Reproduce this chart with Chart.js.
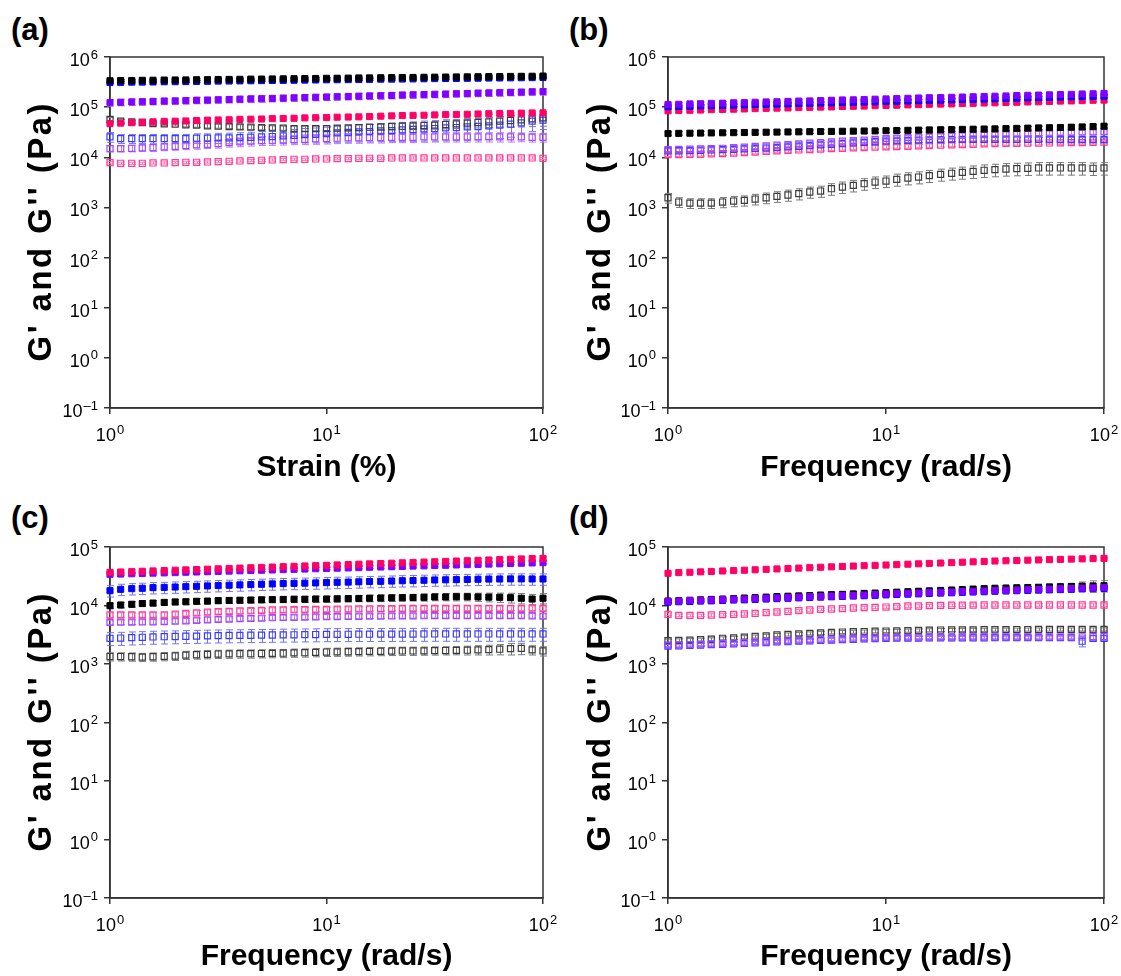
<!DOCTYPE html>
<html>
<head>
<meta charset="utf-8">
<script src="https://cdn.jsdelivr.net/npm/chart.js@4/dist/chart.umd.min.js"></script>
<style>
  html, body { margin: 0; padding: 0; background: #fff; }
  body { position: relative; width: 1121px; height: 976px; overflow: hidden; }
  canvas { position: absolute; }
  .tag { position: absolute; font: bold 31px "Liberation Sans", Arial, sans-serif; line-height: 1; color: #000; }
</style>
</head>
<body>
<div class="tag" style="left:11px;top:14px">(a)</div>
<div class="tag" style="left:569px;top:14px">(b)</div>
<div class="tag" style="left:11px;top:502px">(c)</div>
<div class="tag" style="left:569px;top:502px">(d)</div>
<canvas id="pa" width="560" height="488" style="left:0;top:0"></canvas>
<canvas id="pb" width="563" height="488" style="left:558px;top:0"></canvas>
<canvas id="pc" width="560" height="488" style="left:0;top:488px"></canvas>
<canvas id="pd" width="563" height="488" style="left:558px;top:488px"></canvas>
<script>
// ---- sweep points (20 per decade) ----
const strainPct = [1.00,1.12,1.26,1.41,1.58,1.78,2.00,2.24,2.51,2.82,3.16,3.55,3.98,4.47,5.01,5.62,6.31,7.08,7.94,8.91,10.0,11.2,12.6,14.1,15.8,17.8,20.0,22.4,25.1,28.2,31.6,35.5,39.8,44.7,50.1,56.2,63.1,70.8,79.4,89.1,100];
const angFreq   = [1.00,1.12,1.26,1.41,1.58,1.78,2.00,2.24,2.51,2.82,3.16,3.55,3.98,4.47,5.01,5.62,6.31,7.08,7.94,8.91,10.0,11.2,12.6,14.1,15.8,17.8,20.0,22.4,25.1,28.2,31.6,35.5,39.8,44.7,50.1,56.2,63.1,70.8,79.4,89.1,100];

// ---- axis ticks ----
const xDecades = [1, 10, 100];
const yDecadesTop = [0.1, 1, 10, 100, 1e3, 1e4, 1e5, 1e6];
const yDecadesBottom = [0.1, 1, 10, 100, 1e3, 1e4, 1e5];
const yTitleText = "G' and G'' (Pa)";

// ---- (a) strain sweep, moduli in kPa ----
const aG1 = [336,339,340,343,344,347,348,349,352,353,356,357,359,362,363,365,367,369,372,373,376,377,379,382,383,386,388,390,391,394,396,398,400,402,404,406,407,410,412,413,417];
const aG2 = [310,312,315,316,318,321,322,324,326,328,331,332,334,336,338,341,342,344,346,348,351,352,354,356,358,361,362,364,366,368,371,372,374,376,378,381,382,384,386,388,390];
const aG3 = [123,125,127,128,130,132,133,135,137,138,140,142,144,146,147,149,151,153,155,157,159,161,163,165,167,169,171,174,176,178,180,182,185,187,190,192,194,197,199,202,204];
const aG4 = [47,48,49,50,51,52,52.5,53,54,55,55.5,56,57,57.5,58,59,59.5,60,61,61.5,62,63,63.5,64,65,66,67,68,68.5,69,70,71,71.5,72,73,74,74.5,75,76,76.5,77];
const aL1 = [56.7,52.5,50.9,49.4,47.1,46.4,45.7,44.3,43.7,42.3,41.7,41.1,40.4,39.8,39.2,38.6,38.0,37.4,37.4,37.4,37.4,38.0,38.6,39.2,39.8,40.4,41.1,41.7,42.3,43.0,43.7,45.0,46.4,47.9,49.4,50.9,52.5,54.1,55.8,58.4,61.2];
const aL2 = [25.5,23.6,23.6,23.6,23.6,23.6,23.6,23.6,24.0,24.0,24.4,24.4,24.7,25.1,25.5,25.9,26.7,27.5,28.4,28.8,29.7,30.7,31.2,32.1,32.6,33.6,34.1,35.2,35.8,36.9,37.4,38.6,39.2,40.4,41.1,42.3,43.7,45.7,48.6,52.5,55.0];
const aL3 = [14.9,14.9,15.1,15.4,15.6,16.1,16.6,17.1,17.7,18.2,18.8,19.7,20.3,20.9,21.5,21.9,22.2,22.6,22.9,23.3,23.6,24.0,24.4,24.4,24.7,24.7,25.1,25.1,25.1,25.5,25.5,25.5,25.5,25.5,25.5,25.5,25.5,25.5,25.5,25.1,25.1];
const aL4 = [7.82,7.59,7.59,7.59,7.70,7.70,7.82,7.94,7.94,8.07,8.20,8.32,8.45,8.59,8.71,8.85,8.99,9.12,9.12,9.26,9.26,9.40,9.40,9.55,9.55,9.55,9.70,9.70,9.70,9.70,9.70,9.70,9.70,9.70,9.70,9.70,9.70,9.70,9.70,9.70,9.55];

// ---- (b) frequency sweep ----
const bG1 = [29.7,30.0,30.2,30.4,30.6,30.8,31.0,31.2,31.4,31.6,31.8,32.0,32.2,32.4,32.6,32.8,33.0,33.2,33.4,33.6,33.9,34.2,34.5,34.8,35.1,35.4,35.7,36.0,36.3,36.6,36.9,37.3,37.7,38.1,38.5,38.9,39.3,39.8,40.3,41.0,41.7];
const bG2 = [102,103,104,106,107,108,110,111,113,114,115,116,118,119,121,122,124,125,127,128,130,131,133,135,136,138,140,142,143,145,147,149,151,153,155,157,159,161,163,164,166];
const bG3 = [113,114,116,117,119,120,122,123,125,127,128,130,132,133,135,137,139,140,142,144,146,148,150,152,154,155,157,159,161,163,165,167,170,172,174,176,178,180,183,185,188];
const bG4 = [84.5,85.5,86.5,87.5,89,90,91,92,93.5,94.5,95.5,96.5,98,99,100,101,103,104,105,107,108,109,111,112,114,115,116,118,119,121,122,124,125,127,128,130,132,133,135,137,138];
const bL1 = [1.56,1.28,1.22,1.22,1.22,1.28,1.34,1.38,1.47,1.56,1.66,1.77,1.88,2.03,2.12,2.36,2.55,2.75,2.97,3.21,3.36,3.63,3.86,4.04,4.30,4.57,4.79,5.01,5.25,5.50,5.67,5.84,5.93,6.03,6.12,6.12,6.12,6.12,6.12,6.03,6.12];
const bL2 = [13.4,13.5,13.6,13.8,14.0,14.2,14.4,14.7,15.0,15.3,15.6,16.1,16.6,17.1,17.7,18.2,18.8,19.3,19.8,20.4,20.9,21.3,21.7,22.0,22.3,22.6,22.7,22.8,22.9,22.9,22.9,22.9,22.8,22.8,22.7,22.6,22.6,22.6,22.6,22.6,22.6];
const bL3 = [14.2,14.3,14.5,14.7,14.9,15.1,15.5,15.9,16.4,16.9,17.4,17.9,18.5,19.1,19.7,20.3,20.9,21.5,22.1,22.8,23.6,24.1,24.6,25.2,25.8,26.3,26.8,27.3,27.8,28.3,28.8,29.2,29.6,30.0,30.3,30.7,31.0,31.3,31.6,31.9,32.1];
const bL4 = [11.3,11.3,11.4,11.5,11.7,11.8,12.1,12.4,12.7,13.1,13.4,13.7,14.0,14.3,14.6,14.9,15.1,15.4,15.6,15.9,16.1,16.4,16.6,16.9,17.1,17.4,17.7,18.0,18.2,18.5,18.8,18.9,19.0,19.1,19.2,19.3,19.4,19.6,19.7,19.9,20.0];

// ---- (c) frequency sweep ----
const cG1 = [9.93,10.2,10.5,10.8,11.0,11.3,11.5,11.6,11.8,11.9,12.1,12.2,12.3,12.4,12.5,12.6,12.7,12.8,12.8,12.9,12.9,13.0,13.1,13.2,13.3,13.4,13.5,13.6,13.7,13.8,14.0,14.0,14.1,14.1,14.0,13.9,13.8,13.6,13.3,12.9,13.3];
const cG2 = [17.9,18.9,19.4,19.7,20.2,20.4,20.7,21.0,21.3,21.6,21.9,22.2,22.5,22.8,23.1,23.4,23.7,23.9,24.1,24.3,24.6,24.9,25.1,25.4,25.7,25.9,26.2,26.5,26.7,27.0,27.3,27.5,27.7,27.9,28.1,28.3,28.4,28.5,28.5,28.4,28.4];
const cG3 = [34.1,34.5,34.9,35.3,35.7,36.1,36.5,37.0,37.4,37.8,38.3,38.7,39.2,39.6,40.1,40.5,41.0,41.5,42.0,42.5,43.0,43.4,43.9,44.4,45.0,45.5,46.0,46.5,47.1,47.6,48.2,48.7,49.3,49.9,50.4,51.0,51.6,52.2,52.8,53.4,54.0];
const cG4 = [36.9,37.4,37.9,38.5,39.0,39.5,40.1,40.7,41.2,41.8,42.4,43.0,43.6,44.2,44.8,45.4,46.1,46.7,47.4,48.0,48.7,49.4,50.1,50.8,51.5,52.2,52.9,53.7,54.4,55.2,56.0,56.7,57.5,58.3,59.2,60.0,60.8,61.7,62.5,63.4,64.0];
const cL1 = [1.34,1.34,1.33,1.31,1.33,1.35,1.37,1.42,1.44,1.46,1.48,1.49,1.50,1.50,1.51,1.52,1.53,1.55,1.56,1.58,1.60,1.61,1.62,1.63,1.64,1.65,1.66,1.67,1.67,1.68,1.69,1.70,1.71,1.72,1.74,1.76,1.79,1.83,1.85,1.74,1.67];
const cL2 = [2.75,2.78,2.82,2.86,2.90,2.93,2.95,2.98,3.00,3.03,3.05,3.07,3.08,3.10,3.12,3.13,3.15,3.16,3.18,3.19,3.21,3.22,3.22,3.23,3.23,3.24,3.24,3.25,3.25,3.26,3.26,3.26,3.26,3.26,3.26,3.26,3.26,3.26,3.26,3.26,3.26];
const cL3 = [5.15,5.18,5.20,5.23,5.26,5.29,5.39,5.49,5.59,5.70,5.80,5.88,5.96,6.03,6.11,6.19,6.24,6.29,6.34,6.39,6.44,6.47,6.51,6.54,6.58,6.61,6.63,6.65,6.67,6.69,6.70,6.70,6.70,6.70,6.70,6.70,6.70,6.70,6.70,6.68,6.61];
const cL4 = [6.88,6.90,6.90,6.92,6.93,6.94,7.10,7.30,7.50,7.70,7.85,7.95,8.05,8.15,8.25,8.38,8.43,8.48,8.52,8.56,8.60,8.65,8.70,8.74,8.78,8.83,8.86,8.89,8.91,8.93,8.95,8.95,8.95,8.95,8.95,8.95,8.95,8.95,8.95,9.00,8.95];

// ---- (d) frequency sweep ----
const dG1 = [11.9,12.1,12.3,12.5,12.7,12.9,13.1,13.4,13.6,13.9,14.2,14.4,14.6,14.8,15.1,15.3,15.5,15.8,16.1,16.3,16.6,16.9,17.2,17.5,17.8,18.1,18.4,18.7,19.1,19.4,19.7,19.9,20.1,20.3,20.5,20.8,21.0,21.2,21.4,21.6,21.8];
const dG2 = [11.4,11.6,11.7,11.9,12.0,12.2,12.4,12.5,12.7,12.9,13.1,13.3,13.5,13.7,13.9,14.1,14.3,14.5,14.7,14.9,15.2,15.4,15.6,15.8,16.1,16.3,16.5,16.8,17.0,17.2,17.5,17.7,17.9,18.1,18.3,18.5,18.7,18.9,19.2,19.4,19.6];
const dG3 = [11.8,11.9,12.1,12.2,12.4,12.6,12.8,12.9,13.1,13.3,13.5,13.7,13.9,14.1,14.3,14.5,14.7,14.9,15.1,15.4,15.7,15.9,16.1,16.3,16.6,16.8,17.0,17.3,17.5,17.7,18.0,18.2,18.4,18.6,18.9,19.1,19.3,19.5,19.8,20.0,20.2];
const dG4 = [35.5,36.5,37.0,37.6,38.2,38.9,39.5,40.1,40.8,41.5,42.2,42.9,43.6,44.3,45.1,45.8,46.5,47.2,47.9,48.5,49.2,50.0,50.8,51.6,52.4,53.2,54.0,54.9,55.8,56.7,57.6,58.2,58.8,59.5,60.1,60.8,61.4,62.1,62.7,63.4,64.0];
const dL1 = [2.51,2.54,2.56,2.60,2.65,2.75,2.80,2.88,2.95,3.03,3.13,3.20,3.27,3.34,3.41,3.48,3.52,3.56,3.59,3.63,3.66,3.69,3.72,3.75,3.78,3.81,3.82,3.83,3.84,3.85,3.86,3.87,3.88,3.88,3.89,3.89,3.90,3.90,3.90,3.91,3.91];
const dL2 = [2.03,2.05,2.08,2.11,2.14,2.17,2.21,2.25,2.29,2.33,2.38,2.42,2.45,2.49,2.53,2.57,2.61,2.65,2.69,2.72,2.75,2.76,2.77,2.78,2.79,2.79,2.80,2.80,2.81,2.81,2.82,2.82,2.82,2.82,2.82,2.82,2.82,2.82,2.45,2.75,2.75];
const dL3 = [2.10,2.12,2.15,2.18,2.21,2.24,2.28,2.32,2.36,2.40,2.45,2.49,2.53,2.57,2.61,2.65,2.69,2.73,2.77,2.80,2.83,2.84,2.85,2.86,2.87,2.88,2.89,2.90,2.90,2.90,2.90,2.90,2.90,2.90,2.90,2.90,2.90,2.90,2.90,2.95,2.95];
const dL4 = [7.06,6.79,6.79,6.79,6.88,6.97,7.06,7.16,7.35,7.54,7.74,7.95,8.16,8.38,8.60,8.71,8.83,9.06,9.18,9.30,9.42,9.55,9.80,9.80,9.93,10.06,10.1,10.1,10.15,10.2,10.2,10.2,10.2,10.2,10.2,10.2,10.2,10.2,10.2,10.2,10.2];

// ---- standard deviations, % of the mean (single number = same at every point) ----
const aErrL1 = [10,9,8,8,8,8,8,9,9,9,9,9,10,10,10,10,10,11,11,11,12,12,12,13,13,14,14,15,15,16,17,18,19,20,22,23,24,26,28,30,32];
const aErrL2 = [22,20,20,20,21,20,21,21,22,22,23,24,25,26,27,28,29,30,32,33,34,35,36,37,38,39,40,41,42,43,44,45,45,46,46,46,46,45,42,38,35];
const aErrL3 = [14,14,15,15,16,16,17,17,18,18,19,19,20,20,20,21,21,21,22,22,22,22,22,22,22,22,22,22,22,22,21,21,21,21,21,21,21,21,20,20,20];
const bErrL1 = [22,22,22,22,22,23,23,23,24,24,24,25,25,25,25,26,26,26,26,26,26,27,27,27,27,27,27,27,28,28,28,28,28,28,28,28,28,28,28,28,28];
const cErrG1 = [11,11,11,11,11,11,11,11,11,11,11,11,11,11,11,11,12,12,12,12,12,12,12,12,13,13,13,13,13,14,14,14,15,15,16,17,18,19,20,20,20];
const cErrL1 = [16,16,16,16,16,16,16,16,16,16,16,16,16,16,16,16,16,16,16,16,16,16,16,16,16,16,16,16,16,16,16,16,16,17,18,19,20,22,22,18,18];
const dErrG1 = [4,4,4,4,4,4,4,4,4,4,4,4,4,4,4,4,4,4,4,4,4,4,4,4,4,4,4,4,4,4,4,4,4,4,4,6,8,12,18,22,22];
const dErrL2 = [6,6,6,6,6,6,6,6,6,6,6,6,6,6,6,6,6,6,6,6,6,6,6,6,6,6,6,6,6,6,6,6,6,6,6,6,6,6,20,10,10];
const dErrL3 = [5,5,5,5,5,5,5,5,5,5,5,5,5,5,5,5,5,5,5,5,5,5,5,5,5,5,5,5,5,5,5,5,5,5,5,5,5,5,5,12,12];

// ---- sample colours: black, blue, violet, pink ----
const fillColors = ['#000000', '#0000ff', '#8000ff', '#ff0066'];
const openColors = ['#3c3c3c', '#3a3aff', '#a545ff', '#ff3a9a'];
const errColors  = ['#7a7a7a', '#7474ff', '#b878ff', '#ff78b0'];

const FONT = '"Liberation Sans", Arial, Helvetica, sans-serif';

// vertical error bars with caps, drawn under the markers
const errorBars = {
  id: 'errorBars',
  beforeDatasetsDraw(chart) {
    const ctx = chart.ctx;
    const ys = chart.scales.y;
    ctx.save();
    chart.data.datasets.forEach((ds, di) => {
      if (ds.errPct == null) return;
      const meta = chart.getDatasetMeta(di);
      ctx.strokeStyle = ds.errColor;
      ctx.lineWidth = 1;
      ds.data.forEach((pt, i) => {
        const p = Array.isArray(ds.errPct) ? ds.errPct[i] : ds.errPct;
        if (!p) return;
        const el = meta.data[i];
        const x = Math.round(el.x) + 0.5;
        const yHi = ys.getPixelForValue(pt.y * (1 + p / 100));
        const yLo = ys.getPixelForValue(pt.y * (1 - p / 100));
        ctx.beginPath();
        ctx.moveTo(x, yHi); ctx.lineTo(x, yLo);
        ctx.moveTo(x - 3.5, yHi); ctx.lineTo(x + 3.5, yHi);
        ctx.moveTo(x - 3.5, yLo); ctx.lineTo(x + 3.5, yLo);
        ctx.stroke();
      });
    });
    ctx.restore();
  }
};

// closed frame around the plot area
const plotFrame = {
  id: 'plotFrame',
  beforeDatasetsDraw(chart) {
    const {ctx, chartArea: a} = chart;
    ctx.save();
    ctx.strokeStyle = '#333';
    ctx.lineWidth = 1.5;
    ctx.strokeRect(a.left, a.top, a.right - a.left, a.bottom - a.top);
    ctx.restore();
  }
};

// decade tick labels written as 10 with a raised exponent
function drawPower(ctx, value, anchorX, baseline, align) {
  const exp = String(Math.round(Math.log10(value))).replace('-', '\u2013');
  ctx.font = '18px ' + FONT;
  const wBase = ctx.measureText('10').width;
  ctx.font = '13px ' + FONT;
  const wExp = ctx.measureText(exp).width;
  const total = wBase + 1 + wExp;
  const left = align === 'right' ? anchorX - total : anchorX - total / 2;
  ctx.textBaseline = 'alphabetic';
  ctx.textAlign = 'left';
  ctx.font = '18px ' + FONT;
  ctx.fillText('10', left, baseline);
  ctx.font = '13px ' + FONT;
  ctx.fillText(exp, left + wBase + 1, baseline - 7.5);
}

const powerTicks = {
  id: 'powerTicks',
  afterDraw(chart) {
    const {ctx, chartArea: a, scales} = chart;
    ctx.save();
    ctx.fillStyle = '#000';
    scales.x.ticks.forEach(t => {
      drawPower(ctx, t.value, scales.x.getPixelForValue(t.value), a.bottom + 33, 'center');
    });
    scales.y.ticks.forEach(t => {
      drawPower(ctx, t.value, a.left - 12, scales.y.getPixelForValue(t.value) + 9, 'right');
    });
    ctx.restore();
  }
};

// rotated y-axis title, slightly letter-spaced
const yAxisTitle = {
  id: 'yAxisTitle',
  afterDraw(chart, args, opts) {
    const {ctx, chartArea: a} = chart;
    const chars = Array.from(opts.text);
    ctx.save();
    ctx.font = 'bold ' + opts.size + 'px ' + FONT;
    const widths = chars.map(c => ctx.measureText(c).width);
    const natural = widths.reduce((s, w) => s + w, 0);
    const gap = Math.max(0, (opts.length - natural) / (chars.length - 1));
    const total = natural + gap * (chars.length - 1);
    ctx.translate(opts.x, (a.top + a.bottom) / 2);
    ctx.rotate(-Math.PI / 2);
    ctx.fillStyle = '#000';
    ctx.textBaseline = 'middle';
    ctx.textAlign = 'left';
    let pos = -total / 2;
    chars.forEach((c, i) => { ctx.fillText(c, pos, 0); pos += widths[i] + gap; });
    ctx.restore();
  }
};

function axisBase(ticks) {
  return {
    type: 'logarithmic',
    afterBuildTicks: s => { s.ticks = ticks.map(v => ({value: v})); },
    ticks: {display: false, autoSkip: false, maxRotation: 0, minRotation: 0},
    grid: {drawOnChartArea: false, drawTicks: true, tickLength: 6, color: '#333', lineWidth: 1.5},
    border: {display: true, color: '#333', width: 1.5}
  };
}

function makePanel(id, xs, storage, loss, errs, orders, yMax, yTicks, xTitle, padTop, xTitlePad, yTitleX) {
  const series = storage.concat(loss);
  const datasets = series.map((vals, k) => {
    const g = k % 4;
    const filled = k < 4;
    return {
      data: xs.map((x, i) => ({x: x, y: vals[i] * 1000})),
      showLine: false,
      clip: false,
      pointStyle: 'rect',
      pointRadius: 4.3,
      pointHoverRadius: 4.3,
      pointBorderWidth: filled ? 1 : 1.2,
      pointBackgroundColor: filled ? fillColors[g] : 'rgba(255,255,255,0)',
      pointBorderColor: filled ? fillColors[g] : openColors[g],
      errPct: errs[k],
      errColor: errColors[g],
      order: orders[k]
    };
  });

  const xAxis = axisBase(xDecades);
  xAxis.min = 1; xAxis.max = 100;
  xAxis.afterFit = s => { s.height = 488 - padTop - 351; };
  xAxis.title = {display: true, text: xTitle, color: '#000',
                 font: {family: FONT, size: 30, weight: 'bold'}, padding: {top: 0, bottom: xTitlePad}};

  const yAxis = axisBase(yTicks);
  yAxis.min = 0.1; yAxis.max = yMax;
  yAxis.afterFit = s => { s.width = 110; };

  const canvas = document.getElementById(id);
  return new Chart(canvas, {
    type: 'scatter',
    data: {datasets},
    options: {
      responsive: false,
      animation: false,
      devicePixelRatio: 1,
      layout: {padding: {top: padTop, right: 17, left: 0, bottom: 0}},
      plugins: {
        legend: {display: false},
        tooltip: {enabled: false},
        yAxisTitle: {text: yTitleText, x: yTitleX, size: 33, length: 258}
      },
      scales: {x: xAxis, y: yAxis}
    },
    plugins: [plotFrame, errorBars, powerTicks, yAxisTitle]
  });
}

makePanel('pa', strainPct,
  [aG1, aG2, aG3, aG4], [aL1, aL2, aL3, aL4],
  [4, 4, 15, 3, aErrL1, aErrL2, aErrL3, 5],
  [1, 2, 3, 4, 5, 6, 7, 8],
  1e6, yDecadesTop, 'Strain (%)', 57, 2, 42);

makePanel('pb', angFreq,
  [bG1, bG2, bG3, bG4], [bL1, bL2, bL3, bL4],
  [8, 6, 8, 6, bErrL1, 10, 10, 8],
  [4, 2, 1, 3, 8, 6, 5, 7],
  1e6, yDecadesTop, 'Frequency (rad/s)', 57, 2, 43);

makePanel('pc', angFreq,
  [cG1, cG2, cG3, cG4], [cL1, cL2, cL3, cL4],
  [cErrG1, 22, 5, 7, cErrL1, 25, 9, 9],
  [4, 3, 2, 1, 8, 7, 6, 5],
  1e5, yDecadesBottom, 'Frequency (rad/s)', 59, 1, 42);

makePanel('pd', angFreq,
  [dG1, dG2, dG3, dG4], [dL1, dL2, dL3, dL4],
  [dErrG1, 4, 4, 2, 6, dErrL2, dErrL3, 5],
  [4, 3, 2, 1, 8, 7, 6, 5],
  1e5, yDecadesBottom, 'Frequency (rad/s)', 59, 1, 43);
</script>
</body>
</html>
